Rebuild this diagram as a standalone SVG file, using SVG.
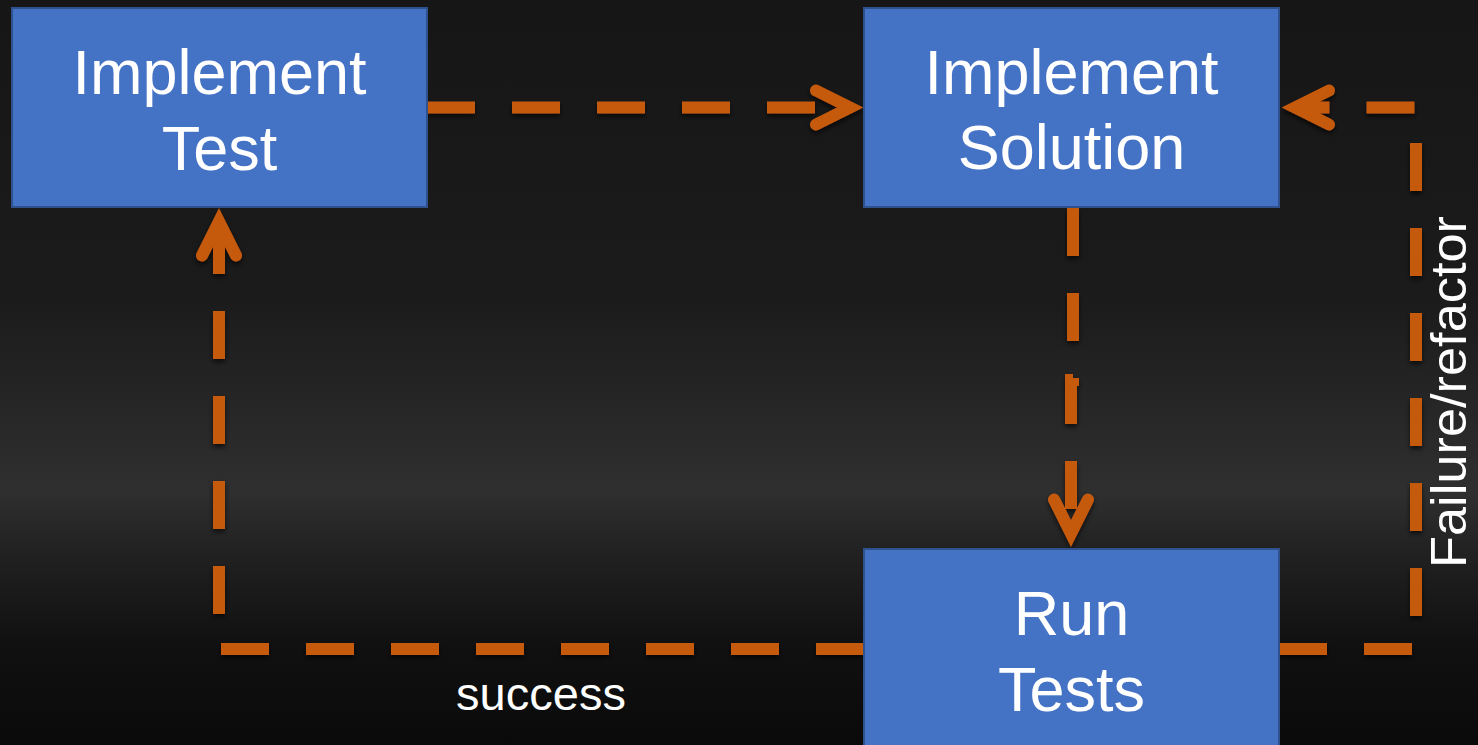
<svg xmlns="http://www.w3.org/2000/svg" width="1478" height="745" viewBox="0 0 1478 745">
  <defs>
    <linearGradient id="bg" x1="0" y1="0" x2="0" y2="1">
      <stop offset="0" stop-color="#161616"/>
      <stop offset="0.4" stop-color="#1b1b1b"/>
      <stop offset="0.66" stop-color="#2f2f2f"/>
      <stop offset="0.73" stop-color="#232323"/>
      <stop offset="0.86" stop-color="#111111"/>
      <stop offset="1" stop-color="#0a0a0a"/>
    </linearGradient>
    <filter id="shadow" filterUnits="userSpaceOnUse" x="0" y="0" width="1478" height="745">
      <feDropShadow dx="0" dy="3" stdDeviation="2.5" flood-color="#000000" flood-opacity="0.65"/>
    </filter>
  </defs>
  <style>
    .box { fill: #4472C4; stroke: #2F528F; stroke-width: 2; }
    .label { fill: #ffffff; font-family: "Liberation Sans", Arial, sans-serif; font-size: 63px; text-anchor: middle; }
    .edge { fill: none; stroke: #C55A11; stroke-width: 12; stroke-dasharray: 48 37; stroke-linecap: butt; stroke-linejoin: miter; }
    .head { fill: none; stroke: #C55A11; stroke-width: 12; stroke-linecap: round; stroke-linejoin: miter; }
    .elabel { fill: #ffffff; font-family: "Liberation Sans", Arial, sans-serif; text-anchor: middle; }
  </style>
  <rect x="0" y="0" width="1478" height="745" fill="url(#bg)"/>

  <g id="connectors" filter="url(#shadow)">
    <g id="edge-test-solution">
      <path class="edge" d="M427,107.5 H850"/>
      <path class="head" d="M816,90.5 L850,107.5 L816,124.5"/>
    </g>
    <g id="edge-solution-run">
      <path class="edge" d="M1073,208 V380 H1071 V533"/>
      <path class="head" d="M1054,499.5 L1071,533.5 L1088,499.5"/>
    </g>
    <g id="edge-run-test">
      <path class="edge" d="M864,649 H219 V221.5"/>
      <path class="head" d="M202,255.5 L219,221.5 L236,255.5"/>
    </g>
    <g id="edge-run-solution">
      <path class="edge" d="M1279,649 H1416 V107.5 H1295"/>
      <path class="head" d="M1329,90.5 L1295,107.5 L1329,124.5"/>
    </g>
  </g>

  <g id="edge-labels">
    <text class="elabel" x="541" y="710" font-size="47">success</text>
    <text class="elabel" font-size="50" textLength="352" lengthAdjust="spacingAndGlyphs" transform="translate(1466,392) rotate(-90)">Failure/refactor</text>
  </g>

  <g id="node-implement-test">
    <rect class="box" x="12" y="8" width="415" height="199"/>
    <text class="label" x="219.5" y="94">Implement</text>
    <text class="label" x="219.5" y="170">Test</text>
  </g>
  <g id="node-implement-solution">
    <rect class="box" x="864" y="8" width="415" height="199"/>
    <text class="label" x="1071.5" y="94">Implement</text>
    <text class="label" x="1071.5" y="169">Solution</text>
  </g>
  <g id="node-run-tests">
    <rect class="box" x="864" y="549" width="415" height="210"/>
    <text class="label" x="1071.5" y="635">Run</text>
    <text class="label" x="1071.5" y="711">Tests</text>
  </g>
</svg>
